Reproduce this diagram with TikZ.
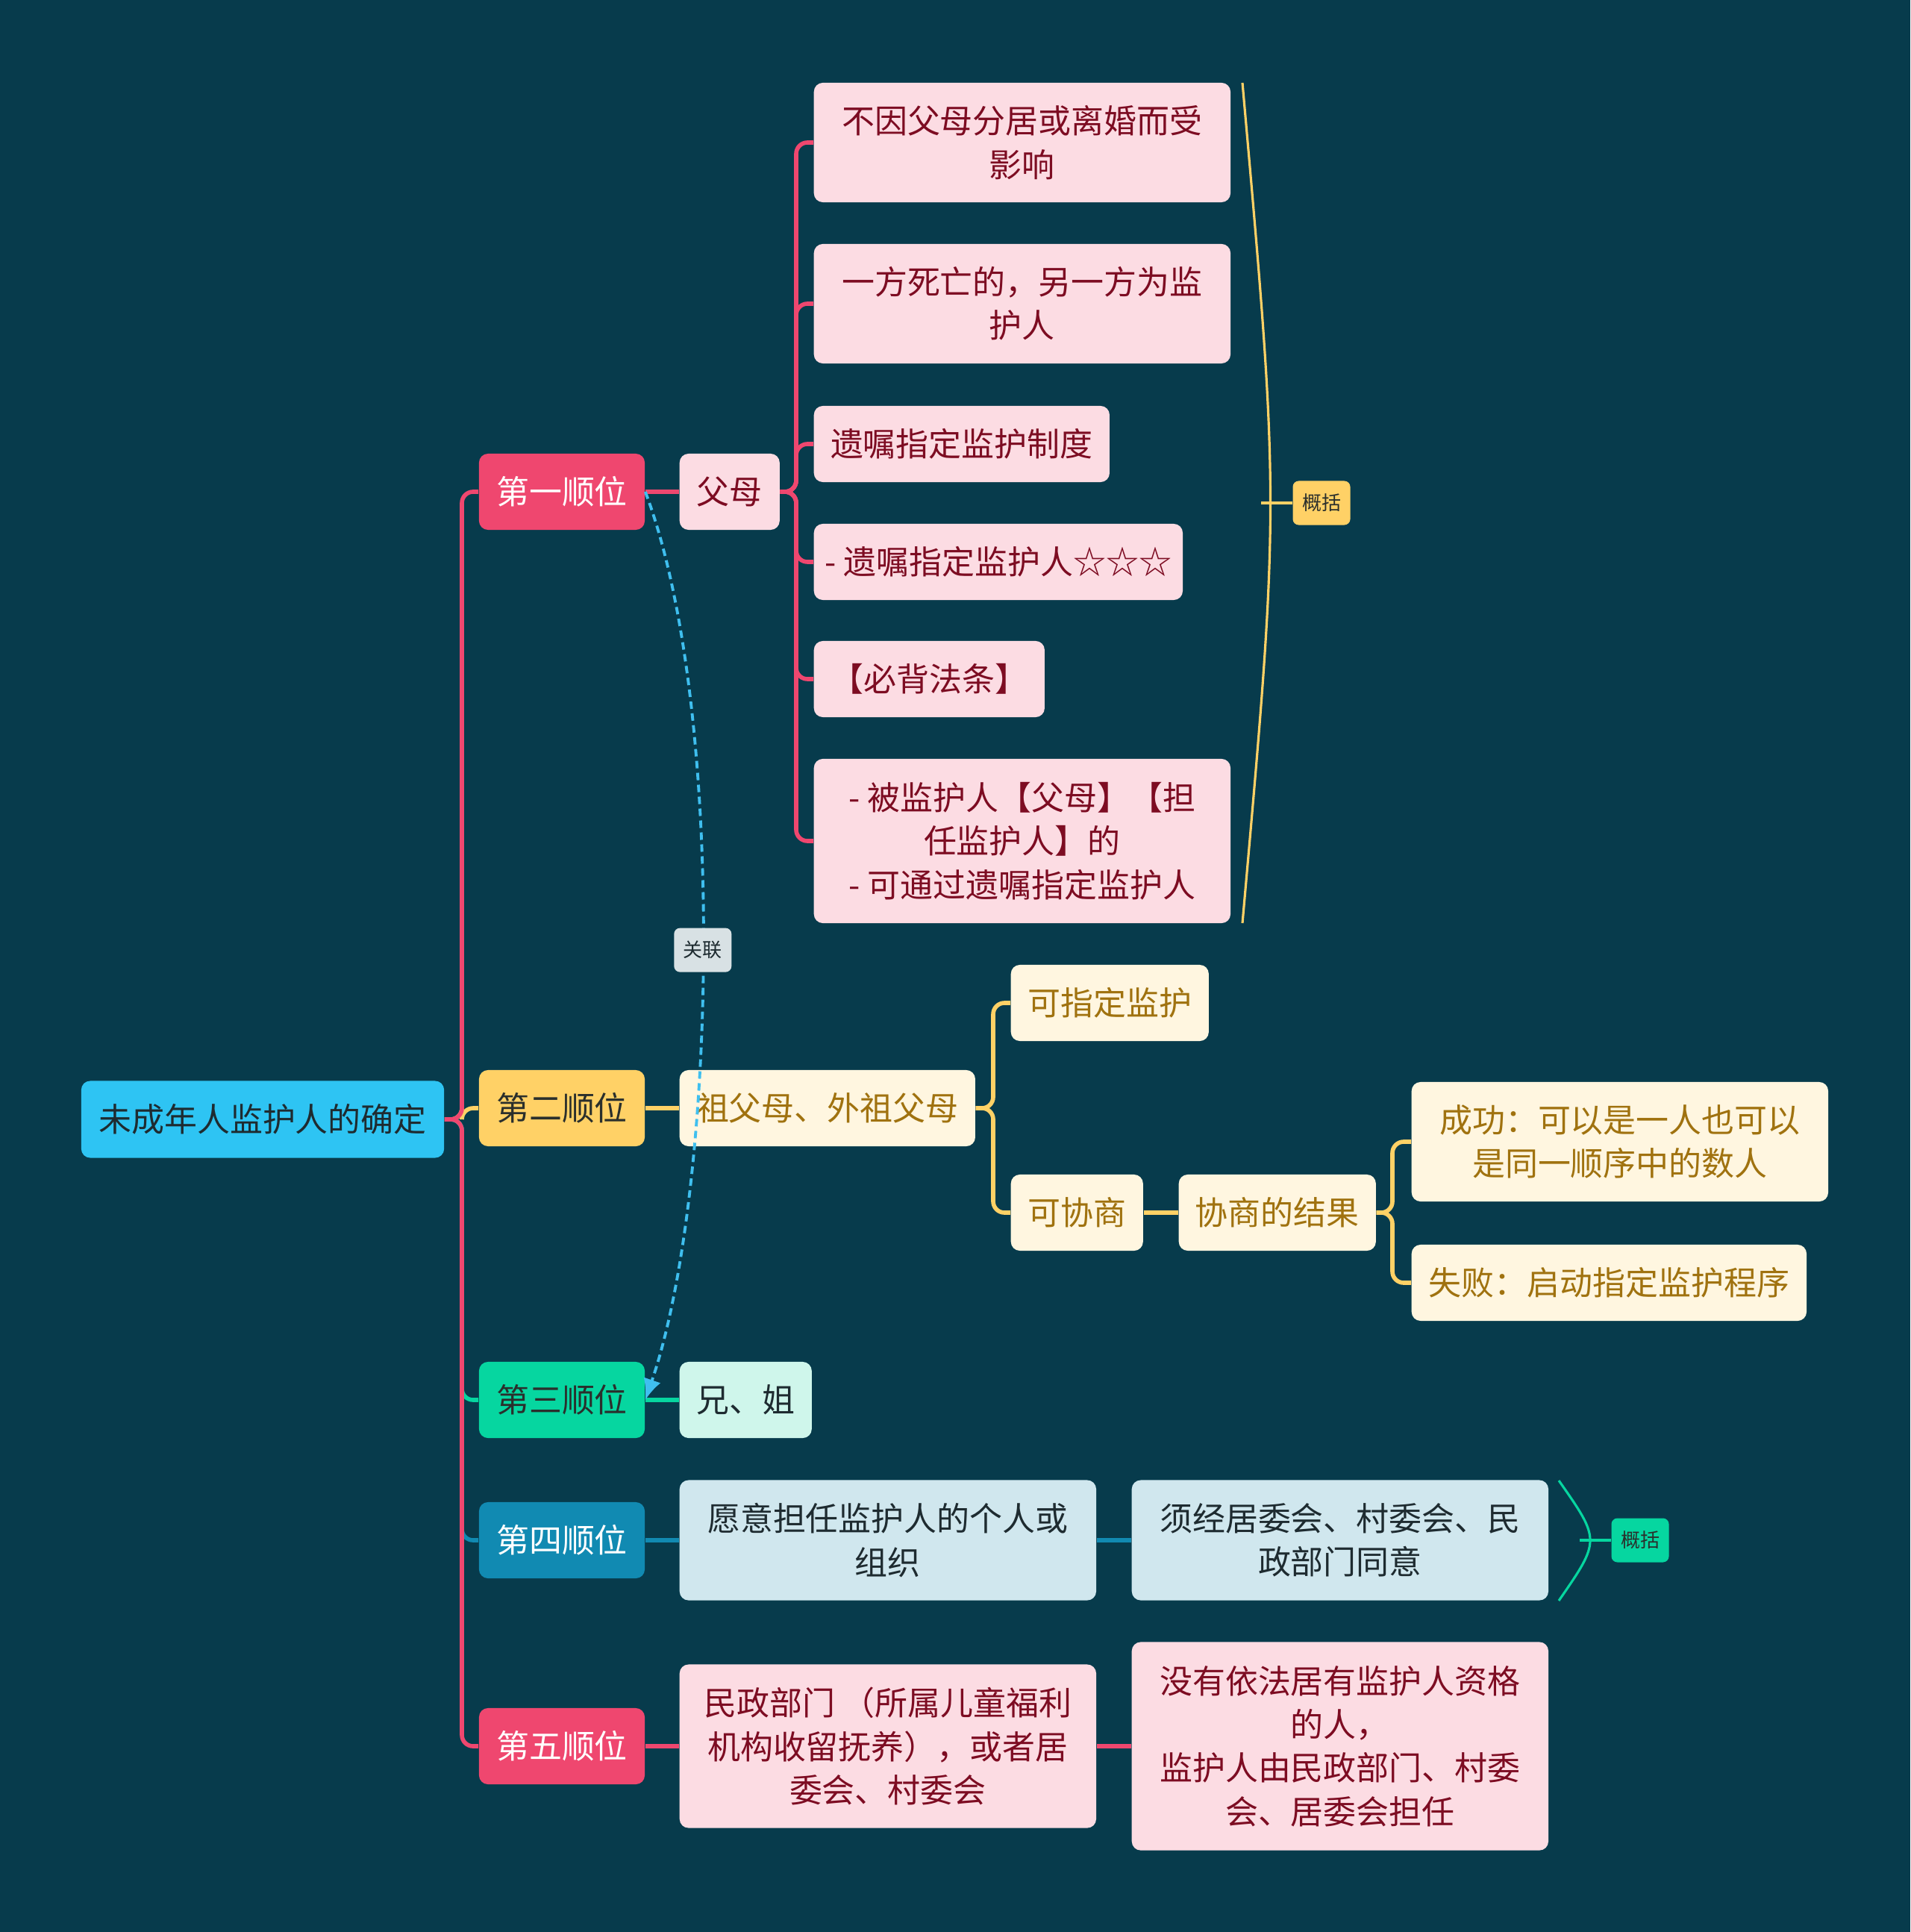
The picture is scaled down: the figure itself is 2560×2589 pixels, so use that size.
\documentclass[tikz,border=0pt]{standalone}
\usepackage{fontspec}
\setmainfont{Noto Sans CJK SC}
\usepackage{xcolor}
\usepackage{tikz}
\definecolor{mapBg}{HTML}{073B4C}
\definecolor{mapRed}{HTML}{EF476F}
\definecolor{mapYellow}{HTML}{FFD166}
\definecolor{mapGreen}{HTML}{06D6A0}
\definecolor{mapBlue}{HTML}{118AB2}
\definecolor{mapSky}{HTML}{2EC4F3}
\definecolor{mapRose}{HTML}{FCDCE3}
\definecolor{mapWine}{HTML}{7D0C22}
\definecolor{mapCream}{HTML}{FFF6E0}
\definecolor{mapGold}{HTML}{A0720F}
\definecolor{mapMint}{HTML}{CFF6EB}
\definecolor{mapIce}{HTML}{D0E7EE}
\definecolor{mapInk}{HTML}{1E2B30}
\definecolor{mapDark}{HTML}{2A2F2C}
\definecolor{mapLink}{HTML}{3FBFEF}
\definecolor{mapTag}{HTML}{D8E1E4}
\usetikzlibrary{arrows.meta}

\begin{document}
\begin{tikzpicture}[
  x=0.01cm, y=-0.01cm,
  font=\fontsize{12.5}{16.6}\selectfont,
  box/.style={rounded corners=0.12cm, inner sep=0pt, align=center},
  rootbox/.style={box, fill=mapSky, text=mapInk, minimum width=4.86cm, minimum height=1.03cm},
  rank/.style={box, minimum width=2.22cm, minimum height=1.02cm},
  leaf/.style={box, anchor=west, minimum height=1.02cm},
  roseleaf/.style={leaf, fill=mapRose, text=mapWine},
  creamleaf/.style={leaf, fill=mapCream, text=mapGold},
  iceleaf/.style={leaf, fill=mapIce, text=mapInk},
  tag/.style={box, rounded corners=0.08cm, font=\fontsize{7.4}{9}\selectfont, minimum width=0.77cm, minimum height=0.59cm},
  branch/.style={line width=1.6pt, rounded corners=0.15cm},
  summary/.style={line width=0.9pt},
  link/.style={-{Latex[length=0.28cm,width=0.24cm]}, mapLink, line width=1.1pt, dash pattern=on 0.1cm off 0.06cm}
]

% Background
\useasboundingbox (0,0) rectangle (2560,2589);
\fill[mapBg] (0,0) rectangle (2560,2589);

% Root and ranks
\node[rootbox] (root) at (352,1500) {未成年人监护人的确定};
\node[rank, fill=mapRed, text=white] (n1) at (753,659) {第一顺位};
\node[rank, fill=mapYellow, text=mapDark] (n2) at (753,1485) {第二顺位};
\node[rank, fill=mapGreen, text=mapDark] (n3) at (753,1876) {第三顺位};
\node[rank, fill=mapBlue, text=white] (n4) at (753,2064) {第四顺位};
\node[rank, fill=mapRed, text=white] (n5) at (753,2340) {第五顺位};

% First rank
\node[roseleaf, minimum width=1.34cm] (fumu) at (910,659) {父母};
\node[roseleaf, minimum width=5.58cm, minimum height=1.60cm] (p1) at (1090,191) {不因父母分居或离婚而受\\影响};
\node[roseleaf, minimum width=5.58cm, minimum height=1.60cm] (p2) at (1090,407) {一方死亡的，另一方为监\\护人};
\node[roseleaf, minimum width=3.96cm] (p3) at (1090,595) {遗嘱指定监护制度};
\node[roseleaf, minimum width=4.94cm] (p4) at (1090,753) {- 遗嘱指定监护人☆☆☆};
\node[roseleaf, minimum width=3.09cm] (p5) at (1090,910) {【必背法条】};
\node[roseleaf, minimum width=5.58cm, minimum height=2.20cm] (p6) at (1090,1127) {- 被监护人【父母】【担\\任监护人】的\\- 可通过遗嘱指定监护人};
\node[tag, fill=mapYellow, text=mapDark] (gk1) at (1771,674) {概括};

% Second rank
\node[creamleaf, minimum width=3.96cm] (zf) at (910,1485) {祖父母、外祖父母};
\node[creamleaf, minimum width=2.65cm] (kz) at (1354,1344) {可指定监护};
\node[creamleaf, minimum width=1.77cm] (kx) at (1354,1625) {可协商};
\node[creamleaf, minimum width=2.64cm] (jg) at (1579,1625) {协商的结果};
\node[creamleaf, minimum width=5.58cm, minimum height=1.60cm] (cg) at (1891,1530) {成功：可以是一人也可以\\是同一顺序中的数人};
\node[creamleaf, minimum width=5.29cm] (sb) at (1891,1719) {失败：启动指定监护程序};

% Third to fifth rank
\node[leaf, fill=mapMint, text=mapInk, minimum width=1.77cm] (xj) at (910,1876) {兄、姐};
\node[iceleaf, minimum width=5.58cm, minimum height=1.61cm] (yy) at (910,2064) {愿意担任监护人的个人或\\组织};
\node[iceleaf, minimum width=5.58cm, minimum height=1.61cm] (xjj) at (1516,2064) {须经居委会、村委会、民\\政部门同意};
\node[tag, fill=mapGreen, text=mapDark] (gk2) at (2198,2064) {概括};
\node[roseleaf, minimum width=5.58cm, minimum height=2.19cm] (mz) at (910,2340) {民政部门 （所属儿童福利\\机构收留抚养），或者居\\委会、村委会};
\node[roseleaf, minimum width=5.58cm, minimum height=2.79cm] (my) at (1516,2340) {没有依法居有监护人资格\\的人，\\监护人由民政部门、村委\\会、居委会担任};

% Main branches
\coordinate (hub) at (619,1500);
\draw[branch, mapYellow] (root.east) -- (hub) |- (n2.west);
\draw[branch, mapGreen] (root.east) -- (hub) |- (n3.west);
\draw[branch, mapBlue] (root.east) -- (hub) |- (n4.west);
\draw[branch, mapRed] (root.east) -- (hub) |- (n1.west);
\draw[branch, mapRed] (root.east) -- (hub) |- (n5.west);

% Sub branches
\draw[branch, mapRed] (n1.east) -- (fumu.west);
\coordinate (fmj) at (1067,659);
\foreach \p in {p1,p2,p3,p4,p5,p6}
  \draw[branch, mapRed] (fumu.east) -- (fmj) |- (\p.west);
\draw[branch, mapYellow] (n2.east) -- (zf.west);
\coordinate (zfj) at (1331,1485);
\draw[branch, mapYellow] (zf.east) -- (zfj) |- (kz.west);
\draw[branch, mapYellow] (zf.east) -- (zfj) |- (kx.west);
\draw[branch, mapYellow] (kx.east) -- (jg.west);
\coordinate (jgj) at (1866,1625);
\draw[branch, mapYellow] (jg.east) -- (jgj) |- (cg.west);
\draw[branch, mapYellow] (jg.east) -- (jgj) |- (sb.west);
\draw[branch, mapGreen] (n3.east) -- (xj.west);
\draw[branch, mapBlue] (n4.east) -- (yy.west);
\draw[branch, mapBlue] (yy.east) -- (xjj.west);
\draw[branch, mapRed] (n5.east) -- (mz.west);
\draw[branch, mapRed] (mz.east) -- (my.west);

% Summaries
\coordinate (br1) at (1690,674);
\draw[summary, mapYellow] (1665,111) .. controls (1715,674) .. (1665,1237);
\draw[summary, mapYellow] (br1) -- (gk1.west);
\coordinate (br2) at (2117,2064);
\draw[summary, mapGreen] (2089,1984) .. controls (2145,2064) .. (2089,2145);
\draw[summary, mapGreen] (br2) -- (gk2.west);

% Relation
\draw[link] (n1.east) .. controls (975,950) and (960,1600) .. (n3.east)
  node[pos=0.5, tag, fill=mapTag, text=mapInk] (gl) {关联};

\end{tikzpicture}
\end{document}
